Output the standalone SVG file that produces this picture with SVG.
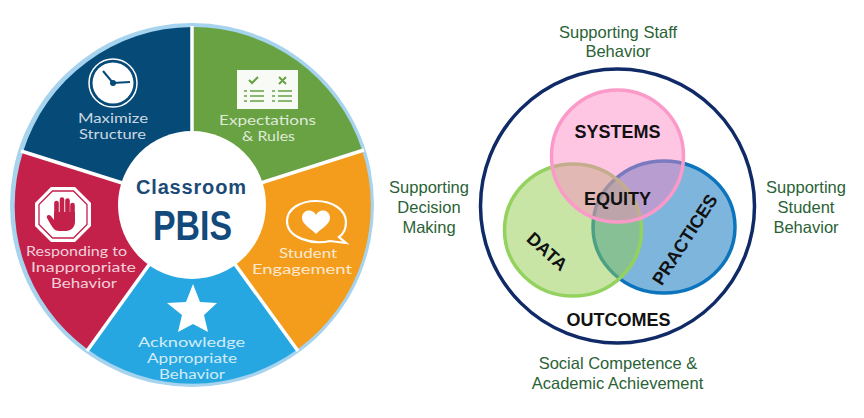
<svg xmlns="http://www.w3.org/2000/svg" width="864" height="418" viewBox="0 0 864 418">
<style>
.w{font-family:"Lato","Open Sans","Liberation Sans",sans-serif;font-size:13.5px;fill:#fff;fill-opacity:.8;text-anchor:middle}
.k{font-family:"Liberation Sans",Arial,sans-serif;font-weight:700;font-size:18px;fill:#111;text-anchor:middle}
.g{font-family:"Liberation Sans",Arial,sans-serif;font-size:16.5px;fill:#2a6236;text-anchor:middle}
.sep{stroke:#fff;stroke-width:3.5}
</style>
<rect width="864" height="418" fill="#fff"/>
<g id="wheel">
<circle cx="192" cy="205" r="182" fill="#a6d3ee"/>
<path d="M192 205L192 27A178 178 0 0 0 23 152Z" fill="#064a78"/>
<path d="M192 205L192 27A178 178 0 0 1 362 150Z" fill="#68a243"/>
<path d="M192 205L362 150A178 178 0 0 1 298 349Z" fill="#f49d1c"/>
<path d="M192 205L298 349A178 178 0 0 1 87 349Z" fill="#27a7e2"/>
<path d="M192 205L87 349A178 178 0 0 1 23 152Z" fill="#c3204a"/>
<g>
<line class="sep" x1="192" y1="205" x2="192" y2="26"/>
<line class="sep" x1="192" y1="205" x2="364" y2="150"/>
<line class="sep" x1="192" y1="205" x2="298" y2="351"/>
<line class="sep" x1="192" y1="205" x2="87" y2="351"/>
<line class="sep" x1="192" y1="205" x2="21" y2="151"/>
</g>
</g>
<g id="center"><circle cx="192" cy="205" r="74" fill="#fff"/>
<text x="191" y="194" font-family="'Liberation Sans',Arial,sans-serif" font-weight="700" font-size="20" fill="#1c4a77" text-anchor="middle" textLength="110" lengthAdjust="spacing">Classroom</text>
<text x="192.5" y="240" font-family="'Liberation Sans',Arial,sans-serif" font-weight="700" font-size="43" fill="#124a7c" text-anchor="middle" textLength="79" lengthAdjust="spacingAndGlyphs">PBIS</text></g>
<g id="maximize">
<circle cx="113" cy="83" r="24" fill="none" stroke="#fff" stroke-width="1.5"/>
<circle cx="113" cy="83" r="20.5" fill="#fff"/>
<path d="M103 71L113 83L130 82" fill="none" stroke="#064a78" stroke-width="2"/><circle cx="113" cy="83" r="3" fill="#064a78"/>
<text class="w" x="113" y="123" textLength="70" lengthAdjust="spacingAndGlyphs">Maximize</text><text class="w" x="112.5" y="139" textLength="67" lengthAdjust="spacingAndGlyphs">Structure</text></g>
<g id="expectations">
<rect x="237" y="70" width="61" height="39" fill="#fff" fill-opacity=".95"/>
<path d="M249 80l3 3 6-6M279 77l7 7M286 77l-7 7" fill="none" stroke="#68a243" stroke-width="2"/>
<path d="M244 91h3M250 91h14M244 96h3M250 96h14M244 101h3M250 101h14M272 91h3M278 91h14M272 96h3M278 96h14M272 101h3M278 101h14" stroke="#68a243" stroke-width="1.6"/>
<text class="w" x="267.5" y="125" textLength="97" lengthAdjust="spacingAndGlyphs">Expectations</text><text class="w" x="268.5" y="141" textLength="53" lengthAdjust="spacingAndGlyphs">&amp; Rules</text></g>
<g id="engagement">
<path d="M316 201C333 201 346 210 346 222C346 230 342 235 339 237L346 243L330 241C312 245 287 238 287 221C287 209 300 201 316 201Z" fill="none" stroke="#fff" stroke-width="2.2"/>
<path d="M316 234C310 228 302 224 302 218C302 209 313 208 316 215C319 208 330 209 330 218C330 224 322 228 316 234Z" fill="#fff"/>
<text class="w" x="308" y="258" textLength="58" lengthAdjust="spacingAndGlyphs">Student</text><text class="w" x="302" y="274" textLength="100" lengthAdjust="spacingAndGlyphs">Engagement</text></g>
<g id="acknowledge">
<path d="M193 284L200 302L217 303L204 315L208 332L193 324L178 332L182 315L167 303L186 302Z" fill="#fff"/>
<text class="w" x="191.5" y="347" textLength="107" lengthAdjust="spacingAndGlyphs">Acknowledge</text><text class="w" x="192" y="363" textLength="90" lengthAdjust="spacingAndGlyphs">Appropriate</text><text class="w" x="192" y="379" textLength="66" lengthAdjust="spacingAndGlyphs">Behavior</text></g>
<g id="responding">
<path d="M51 187H75L91 203V226L75 242H51L35 226V203Z" fill="#fff"/>
<path d="M52.500 191H73.500L87 204.500V224.500L73.500 238H52.500L39 224.500V204.500Z" fill="none" stroke="#c3204a" stroke-width="1.3"/>
<path d="M56.500 216V203M62 216V199.500M67.500 216V200.500M72.500 218V205" stroke="#c3204a" stroke-width="4.600" stroke-linecap="round" fill="none"/>
<path d="M54 212H75V222C75 227 71 231 66 231H59C55 231 53 228 51 225L47 218C46 215 49 214 51 216L54 220Z" fill="#c3204a"/>
<text class="w" x="76.500" y="256" textLength="101" lengthAdjust="spacingAndGlyphs">Responding to</text><text class="w" x="83.500" y="272" textLength="105" lengthAdjust="spacingAndGlyphs">Inappropriate</text><text class="w" x="84" y="288" textLength="66" lengthAdjust="spacingAndGlyphs">Behavior</text></g>
<g id="venn">
<circle cx="617.5" cy="206" r="137" fill="#fff" stroke="#0f2a66" stroke-width="3.5"/>
<g id="practices"><ellipse cx="664" cy="227" rx="71" ry="66" fill="#7eb5dc" stroke="#0b74bc" stroke-width="3.5"/></g>
<g id="data"><ellipse cx="573" cy="230" rx="68.500" ry="66" fill="#91cb4d" fill-opacity=".5"/><ellipse cx="573" cy="230" rx="68.500" ry="66" fill="none" stroke="#94d260" stroke-width="3.500"/></g>
<g id="systems"><circle cx="617.5" cy="156" r="66" fill="#ff81c3" fill-opacity=".45"/><circle cx="617.500" cy="156" r="66" fill="none" stroke="#fb9ac9" stroke-width="3.500"/></g>
<text class="k" x="617.5" y="138">SYSTEMS</text>
<text class="k" x="617.5" y="205">EQUITY</text>
<text class="k" transform="translate(543 256) rotate(42)">DATA</text>
<text class="k" transform="translate(690 243) rotate(-57)">PRACTICES</text>
<text class="k" x="618.5" y="326">OUTCOMES</text>
</g>
<g id="labels">
<text class="g" x="618" y="38">Supporting Staff</text><text class="g" x="618" y="57">Behavior</text>
<text class="g" x="429" y="193">Supporting</text><text class="g" x="429" y="213">Decision</text><text class="g" x="429" y="233">Making</text>
<text class="g" x="806" y="193">Supporting</text><text class="g" x="806" y="213">Student</text><text class="g" x="806" y="233">Behavior</text>
<text class="g" x="618" y="369">Social Competence &amp;</text><text class="g" x="617.5" y="389">Academic Achievement</text>
</g>
</svg>
